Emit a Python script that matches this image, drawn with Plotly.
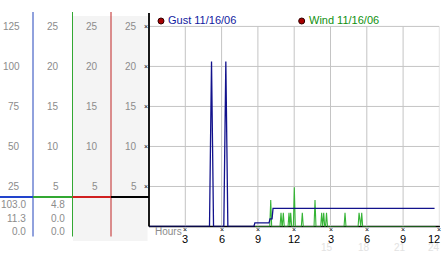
import plotly.graph_objects as go

W, H = 442, 253


def px(x):
    return x / W


def py(y):
    return 1 - y / H


# ---------------- data ----------------
hour_ticks = [3, 6, 9, 12, 15, 18, 21, 24]
hour_labels = ["3", "6", "9", "12", "3", "6", "9", "12"]
faded_hours = [15, 18, 21, 24]
faded_labels = ["15", "18", "21", "24"]

wind_levels = [5, 10, 15, 20, 25]
wind_level_labels = ["5", "10", "15", "20", "25"]
gust_levels = [25, 50, 75, 100, 125]
gust_level_labels = ["25", "50", "75", "100", "125"]

gust_stats = ["103.0", "11.3", "0.0"]   # max, current, min
wind_stats = ["4.8", "0.0", "0.0"]

gust_hours = [0.0, 5.0, 5.083, 5.167, 5.25, 5.333,
              6.183, 6.267, 6.35, 6.433, 6.517,
              8.667, 8.75, 9.92, 10.0, 10.17, 10.25, 23.6]
gust_vals = [0, 0, 51.5, 103, 51.5, 0,
             0, 51.5, 103, 51.5, 0,
             0, 2.3, 2.3, 4.8, 4.8, 11.3, 11.3]

wind_hours = [8.75,
              9.98, 10.06, 10.14,
              10.83, 10.91, 10.99, 11.02, 11.10, 11.18,
              11.49, 11.57, 11.64, 11.71, 11.79,
              11.93, 12.01, 12.09,
              12.59, 12.67, 12.75,
              13.64, 13.72, 13.80,
              14.19, 14.27, 14.35, 14.44, 14.52, 14.59, 14.67, 14.75,
              16.12, 16.20, 16.28,
              17.28, 17.36, 17.44, 17.50, 17.58, 17.66,
              23.7]
wind_vals = [0,
             0, 3.3, 0,
             0, 1.7, 0, 0, 1.7, 0,
             0, 1.7, 0, 1.7, 0,
             0, 4.9, 0,
             0, 1.7, 0,
             0, 3.3, 0,
             0, 1.7, 0, 1.7, 0, 0, 1.7, 0,
             0, 1.7, 0,
             0, 1.7, 0, 0, 1.7, 0,
             0]

GUST_C = "#12128c"
WIND_C = "#36b436"
LABEL_GRAY = "#8c8c8c"
FONT = "Liberation Sans"

fig = go.Figure()
fig.add_trace(go.Scatter(x=gust_hours, y=gust_vals, mode="lines", yaxis="y2",
                         line=dict(color=GUST_C, width=1.3), hoverinfo="skip",
                         showlegend=False))
fig.add_trace(go.Scatter(x=wind_hours, y=wind_vals, mode="lines", yaxis="y",
                         line=dict(color=WIND_C, width=1.1), hoverinfo="skip",
                         showlegend=False))

shapes = []
# plot grid
for lv in wind_levels:
    shapes.append(dict(type="line", xref="x", yref="y", x0=0, x1=24, y0=lv, y1=lv,
                       line=dict(color="#c4c4c4", width=1), layer="below"))
for h in hour_ticks:
    shapes.append(dict(type="line", xref="x", yref="y", x0=h, x1=h, y0=0, y1=25,
                       line=dict(color="#c4c4c4", width=1), layer="below"))
# plot axes
shapes.append(dict(type="line", xref="paper", yref="paper", x0=px(149), x1=px(149),
                   y0=py(226.5), y1=py(13), line=dict(color="black", width=1.8)))
shapes.append(dict(type="line", xref="paper", yref="paper", x0=px(149), x1=px(440),
                   y0=py(226.5), y1=py(226.5), line=dict(color="black", width=1.5),
                   layer="below"))
# left panel background
shapes.append(dict(type="rect", xref="paper", yref="paper", x0=px(73), x1=px(147.5),
                   y0=py(241), y1=py(16), fillcolor="#f4f4f4", line=dict(width=0),
                   layer="below"))
# left panel column lines
for xc, col in [(33, "#2244bb"), (72.5, "#33a833"), (111, "#c02424")]:
    shapes.append(dict(type="line", xref="paper", yref="paper", x0=px(xc), x1=px(xc),
                       y0=py(236.5), y1=py(12), line=dict(color=col, width=1)))
# coloured bar
for x0, x1, col in [(0, 33, "#2244cc"), (33, 72.5, "#33a833"),
                    (72.5, 111, "#d02020"), (111, 149, "black")]:
    shapes.append(dict(type="line", xref="paper", yref="paper", x0=px(x0), x1=px(x1),
                       y0=py(197), y1=py(197), line=dict(color=col, width=2.2)))
# legend dots
for xd in [161, 301.7]:
    shapes.append(dict(type="circle", xref="paper", yref="paper",
                       x0=px(xd - 3), x1=px(xd + 3), y0=py(24), y1=py(18),
                       fillcolor="#a80000", line=dict(color="#300000", width=1)))

ann = []
# left column labels
for lv, lab in zip(gust_levels, gust_level_labels):
    ann.append(dict(x=px(21.5), xref="paper", y=lv, yref="y2", text=lab,
                    xanchor="right", yanchor="middle", showarrow=False,
                    font=dict(family=FONT, size=10, color=LABEL_GRAY)))
for xr in [60.5, 99.5, 138.5]:
    for lv, lab in zip(wind_levels, wind_level_labels):
        ann.append(dict(x=px(xr), xref="paper", y=lv, yref="y", text=lab,
                        xanchor="right", yanchor="middle", showarrow=False,
                        font=dict(family=FONT, size=10, color=LABEL_GRAY)))
for lv in wind_levels:
    ann.append(dict(x=px(146), xref="paper", y=lv, yref="y", text="×",
                    xanchor="center", yanchor="middle", showarrow=False,
                    font=dict(family=FONT, size=7, color="black")))
# stats
for yy, g, w in zip([204, 218, 231.5], gust_stats, wind_stats):
    ann.append(dict(x=px(27.5), xref="paper", y=py(yy), yref="paper", text=g,
                    xanchor="right", yanchor="middle", showarrow=False,
                    font=dict(family=FONT, size=10, color=LABEL_GRAY)))
    ann.append(dict(x=px(66.5), xref="paper", y=py(yy), yref="paper", text=w,
                    xanchor="right", yanchor="middle", showarrow=False,
                    font=dict(family=FONT, size=10, color=LABEL_GRAY)))
# legend texts
ann.append(dict(x=px(165.5), xref="paper", y=py(20.5), yref="paper", text="Gust 11/16/06",
                xanchor="left", yanchor="middle", showarrow=False,
                font=dict(family=FONT, size=11, color="#1020a0")))
ann.append(dict(x=px(306.5), xref="paper", y=py(20.5), yref="paper", text="Wind 11/16/06",
                xanchor="left", yanchor="middle", showarrow=False,
                font=dict(family=FONT, size=11, color="#109010")))
# x-axis labels
ann.append(dict(x=px(153), xref="paper", y=py(231), yref="paper", text="Hours",
                xanchor="left", yanchor="middle", showarrow=False,
                font=dict(family=FONT, size=10, color=LABEL_GRAY)))
for i, (h, lab) in enumerate(zip(hour_ticks, hour_labels)):
    last = i == len(hour_ticks) - 1
    ann.append(dict(x=px(442) if last else h, xref="paper" if last else "x",
                    y=py(238.5), yref="paper", text=lab,
                    xanchor="right" if last else "center", yanchor="middle",
                    showarrow=False, font=dict(family=FONT, size=11, color="black")))
    ann.append(dict(x=h, xref="x", y=py(229.5), yref="paper", text="×",
                    xanchor="center", yanchor="middle", showarrow=False,
                    font=dict(family=FONT, size=7, color="black")))
for i, (h, lab) in enumerate(zip(faded_hours, faded_labels)):
    last = i == len(faded_hours) - 1
    ann.append(dict(x=px(442) if last else h - 0.25, xref="paper" if last else "x",
                    y=py(247.5), yref="paper", text=lab,
                    xanchor="right" if last else "center", yanchor="middle",
                    showarrow=False, font=dict(family=FONT, size=10, color="#e2e2e2")))

fig.update_layout(
    width=W, height=H,
    margin=dict(l=0, r=0, t=0, b=0),
    paper_bgcolor="white", plot_bgcolor="rgba(0,0,0,0)",
    xaxis=dict(domain=[px(149), px(439.4)], range=[0, 24], showgrid=False,
               zeroline=False, showticklabels=False, fixedrange=True),
    yaxis=dict(domain=[py(226.5), py(12)], range=[0, 26.8], showgrid=False,
               zeroline=False, showticklabels=False, fixedrange=True),
    yaxis2=dict(overlaying="y", range=[0, 134], showgrid=False, zeroline=False,
                showticklabels=False, fixedrange=True),
    shapes=shapes, annotations=ann, showlegend=False,
)

fig.write_html("out.html", config={"displayModeBar": False})
